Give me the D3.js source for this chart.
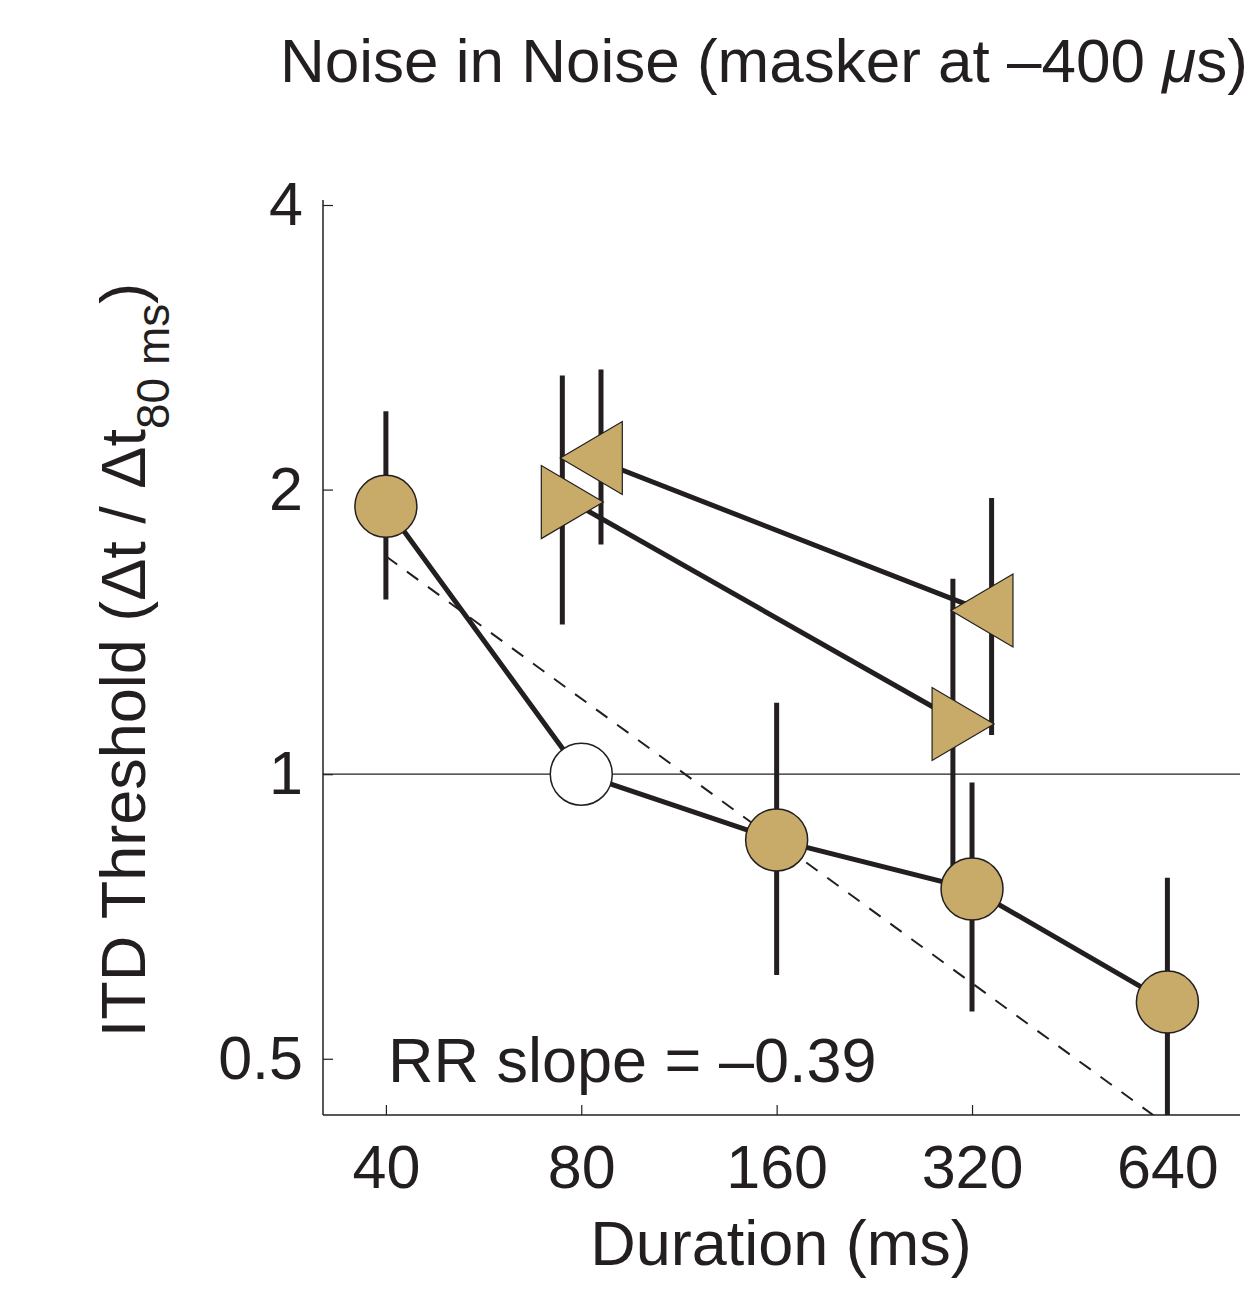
<!DOCTYPE html>
<html lang="en">
  <head>
    <meta charset="utf-8">
    <title>Noise in Noise</title>
    <style>
      body { margin: 0; background: white; }
      svg { display: block; }
      text { font-family: "Liberation Sans", Arial, Helvetica, sans-serif; fill: #231f20; }
    </style>
    <script src="https://d3js.org/d3.v7.min.js"></script>
  </head>
  <body>
    <div class="chart"></div>
    <script>

    // durations (ms) and thresholds relative to 80 ms
    const durations = [40, 80, 160, 320, 640]
    const circleVals = [1.92, 1.0, 0.852, 0.756, 0.574]
    const circleHi = [2.42, null, 1.19, 0.98, 0.777]
    const circleLo = [1.53, null, 0.613, 0.561, 0.40]

    // right-pointing triangles (drawn slightly left of the nominal duration)
    const rightX = [77.5, 310]
    const rightErrX = [74.8, 299]
    const rightVals = [1.94, 1.13]
    const rightHi = [2.64, 1.61]
    const rightLo = [1.44, 0.79]

    // left-pointing triangles (drawn slightly right)
    const leftX = [82.9, 331.5]
    const leftErrX = [85.8, 343]
    const leftVals = [2.16, 1.49]
    const leftHi = [2.68, 1.96]
    const leftLo = [1.75, 1.10]

    // dashed reference line, slope -0.5 in log-log
    const refX = [40, 640]
    const refVals = [1.70, 0.425]

    const xTicks = [40, 80, 160, 320, 640]
    const yTicks = [0.5, 1, 2, 4]

    const width = 1257, height = 1295
    const margin = { top: 205, left: 323, bottom: 180, right: 17 }
    const gold = "#c8aa69", ink = "#231f20"

    const x = d3.scaleLog().base(2)
      .domain([32.0, 828])
      .range([margin.left, width - margin.right])

    const y = d3.scaleLog().base(2)
      .domain([0.436, 4])
      .range([height - margin.bottom, margin.top])

    const svg = d3.select(".chart")
      .append("svg")
      .attr("width", width)
      .attr("height", height)

    svg.append("clipPath")
      .attr("id", "plot")
      .append("rect")
      .attr("x", margin.left)
      .attr("y", 0)
      .attr("width", width - margin.right - margin.left)
      .attr("height", height - margin.bottom)

    // title
    const title = svg.append("text")
      .attr("x", 280)
      .attr("y", 82)
      .style("font-size", "62px")
    title.append("tspan").text("Noise in Noise (masker at \u2013400 ")
    title.append("tspan").style("font-style", "italic").text("\u03bc")
    title.append("tspan").text("s)")

    // axes
    const xAxis = d3.axisBottom(x).tickValues(xTicks).tickSize(-10).tickPadding(30).tickFormat(d3.format("d"))
    const gx = svg.append("g")
      .attr("transform", `translate(0,${height - margin.bottom})`)
      .call(xAxis)
    gx.select(".domain").attr("d", `M${margin.left},0H${width - margin.right}`).attr("stroke", ink).attr("stroke-width", 1.5)
    gx.selectAll(".tick line").attr("stroke", ink).attr("stroke-width", 1.2)
    gx.selectAll(".tick text").style("font-size", "61px").attr("fill", ink).attr("dy", "0.71em")

    const yAxis = d3.axisLeft(y).tickValues(yTicks).tickSize(-10).tickPadding(20).tickFormat(d => d)
    const gy = svg.append("g")
      .attr("transform", `translate(${margin.left},0)`)
      .call(yAxis)
    gy.select(".domain").attr("d", `M0,${margin.top - 5}V${height - margin.bottom}`).attr("stroke", ink).attr("stroke-width", 1.5)
    gy.selectAll(".tick line").attr("stroke", ink).attr("stroke-width", 1.2)
    gy.selectAll(".tick text").style("font-size", "61px").attr("fill", ink)

    // axis labels
    const ylab = svg.append("text")
      .attr("transform", `translate(145,660) rotate(-90)`)
      .attr("text-anchor", "middle")
      .style("font-size", "63px")
    ylab.append("tspan").text("ITD Threshold (\u0394t / \u0394t")
    ylab.append("tspan").attr("dy", 24).style("font-size", "46px").text("80 ms")
    ylab.append("tspan").attr("dy", -24).text(")")

    svg.append("text")
      .attr("x", 781)
      .attr("y", 1265)
      .attr("text-anchor", "middle")
      .style("font-size", "63px")
      .text("Duration (ms)")

    svg.append("text")
      .attr("x", 388)
      .attr("y", 1082)
      .style("font-size", "63px")
      .text("RR slope = \u20130.39")

    const plot = svg.append("g").attr("clip-path", "url(#plot)")

    // reference line at 1
    plot.append("line")
      .attr("x1", margin.left).attr("x2", width - margin.right)
      .attr("y1", y(1)).attr("y2", y(1))
      .attr("stroke", ink).attr("stroke-width", 1.3)

    // dashed line
    plot.append("line")
      .attr("x1", x(refX[0])).attr("y1", y(refVals[0]))
      .attr("x2", x(refX[1])).attr("y2", y(refVals[1]))
      .attr("stroke", ink).attr("stroke-width", 2)
      .attr("stroke-dasharray", "14,12")

    const errbar = (xs, hi, lo) => {
      const d = xs.map((v, i) => ({ x: v, hi: hi[i], lo: lo[i] })).filter(d => d.hi != null)
      plot.append("g")
        .attr("stroke", ink)
        .attr("stroke-width", 5)
        .selectAll("line")
        .data(d)
        .join("line")
        .attr("x1", d => x(d.x)).attr("x2", d => x(d.x))
        .attr("y1", d => y(d.hi)).attr("y2", d => y(d.lo))
    }
    errbar(rightErrX, rightHi, rightLo)
    errbar(leftErrX, leftHi, leftLo)
    errbar(durations, circleHi, circleLo)

    const line = d3.line().x(d => x(d[0])).y(d => y(d[1]))
    const series = [
      d3.zip(durations, circleVals),
      d3.zip(rightX, rightVals),
      d3.zip(leftX, leftVals)
    ]
    svg.append("g")
      .attr("fill", "none")
      .attr("stroke", ink)
      .attr("stroke-width", 5)
      .selectAll("path")
      .data(series)
      .join("path")
      .attr("d", line)

    // markers
    svg.append("g")
      .selectAll("circle")
      .data(d3.zip(durations, circleVals))
      .join("circle")
      .attr("cx", d => x(d[0]))
      .attr("cy", d => y(d[1]))
      .attr("r", 31)
      .attr("fill", d => d[0] == 80 ? "white" : gold)
      .attr("stroke", ink)
      .attr("stroke-width", 1.5)

    const tri = (w, h) => `M${-w / 2},${-h / 2}L${-w / 2},${h / 2}L${w / 2},0Z`
    svg.append("g")
      .selectAll("path")
      .data(d3.zip(rightX, rightVals))
      .join("path")
      .attr("transform", d => `translate(${x(d[0])},${y(d[1])})`)
      .attr("d", tri(62, 73))
      .attr("fill", gold).attr("stroke", ink).attr("stroke-width", 1.2)

    svg.append("g")
      .selectAll("path")
      .data(d3.zip(leftX, leftVals))
      .join("path")
      .attr("transform", d => `translate(${x(d[0])},${y(d[1])}) scale(-1,1)`)
      .attr("d", tri(62, 73))
      .attr("fill", gold).attr("stroke", ink).attr("stroke-width", 1.2)

    </script>
  </body>
</html>
